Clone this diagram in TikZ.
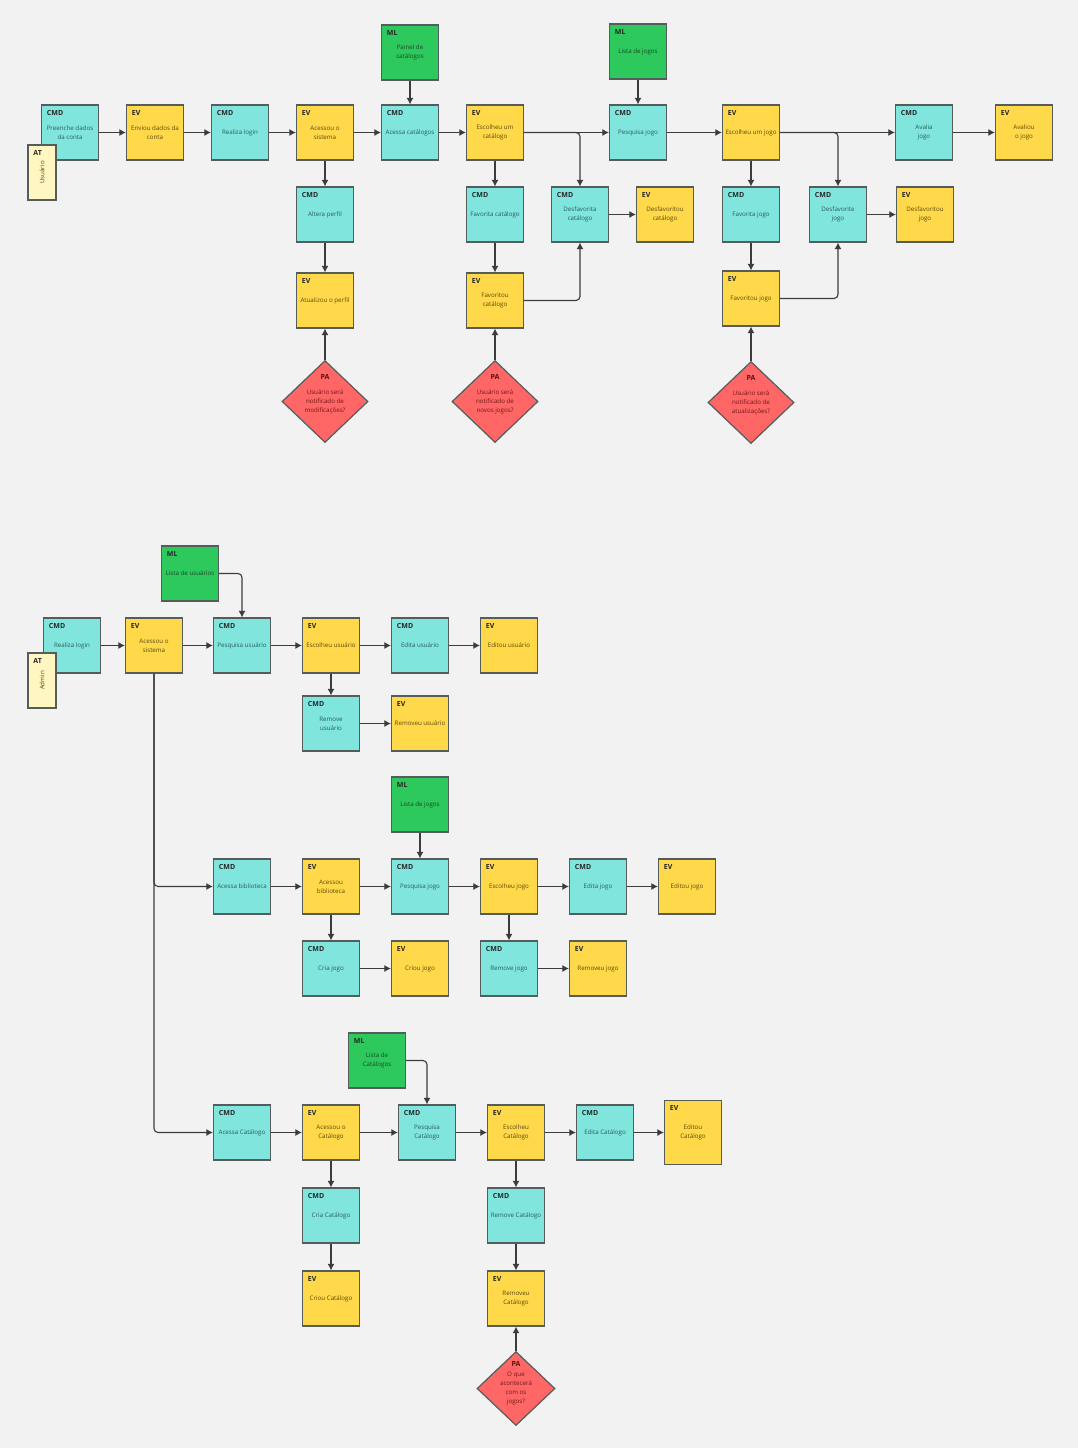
\documentclass[tikz,border=0pt]{standalone}
\usepackage{fontspec}
\setmainfont{Open Sans}
\usepackage {tikz}
\usetikzlibrary {positioning}
\usetikzlibrary{shapes.geometric}
\usetikzlibrary{arrows.meta}
\definecolor{bgfill}{RGB}{242,242,242}
\definecolor{cmdfill}{RGB}{128,229,221}
\definecolor{evfill}{RGB}{255,217,74}
\definecolor{mlfill}{RGB}{46,201,92}
\definecolor{pafill}{RGB}{255,102,102}
\definecolor{atfill}{RGB}{255,246,194}
\definecolor{stickyline}{RGB}{85,92,92}
\definecolor{flowline}{RGB}{60,60,60}
\definecolor{cmdtext}{RGB}{40,92,88}
\definecolor{evtext}{RGB}{92,72,12}
\definecolor{mltext}{RGB}{22,72,38}
\definecolor{patext}{RGB}{112,22,22}
\tikzset{
    sticky/.style = {rectangle, draw=stickyline, line width=1.2pt, minimum width=57pt,
        minimum height=55pt, inner sep=1pt, align=center, font=\fontsize{6.2}{9}\selectfont},
    hdr/.style = {anchor=north west, inner sep=0pt, xshift=5.5pt, yshift=-5.5pt,
        font=\fontsize{7}{8}\selectfont\bfseries, text=black!85},
    cmd/.style = {sticky, fill=cmdfill, text=cmdtext, label={[hdr]north west:CMD}},
    ev/.style = {sticky, fill=evfill, text=evtext, label={[hdr]north west:EV}},
    ml/.style = {sticky, fill=mlfill, text=mltext, label={[hdr]north west:ML}},
    actor/.style = {sticky, fill=atfill, text=evtext, minimum width=28pt, label={[hdr]north west:AT}},
    pahdr/.style = {anchor=center, inner sep=0pt, yshift=25pt,
        font=\fontsize{7}{8}\selectfont\bfseries, text=patext!80!black},
    pa/.style = {diamond, draw=stickyline, line width=1.2pt, fill=pafill, text=patext,
        minimum width=86pt, minimum height=82pt, inner sep=-4pt, align=center,
        font=\fontsize{6.2}{9}\selectfont, label={[pahdr]center:PA}}}

\begin{document}
\begin{tikzpicture}[x=1pt, y=-1pt, -{Latex[length=6.5pt,width=7pt]}, line width=1.1pt,
    node distance = 82pt and 85pt, on grid,
    flow/.style = {draw=flowline, rounded corners=4pt}
    ]
    \fill[bgfill, -] (0,0) rectangle (1078,1448);
    \useasboundingbox (0,0) rectangle (1078,1448);

    % usuario
    \node[cmd] (preenche) at (70,132.5) {Preenche dados\\da conta};
    \node[actor] (usuario) [below left = 40pt and 28pt of preenche] {\rotatebox{90}{Usuário}};
    \node[ev] (enviou) [right = of preenche] {Enviou dados da\\conta};
    \node[cmd] (login) [right = of enviou] {Realiza login};
    \node[ev] (acessou) [right = of login] {Acessou o\\sistema};
    \node[cmd] (acessacat) [right = of acessou] {Acessa catálogos};
    \node[ml] (painel) [above = 80pt of acessacat] {Painel de\\catálogos};
    \node[ev] (escolheucat) [right = of acessacat] {Escolheu um\\catálogo};
    \node[cmd] (pesquisa) [right = 143pt of escolheucat] {Pesquisa jogo};
    \node[ml] (listajogos) [above = 81pt of pesquisa] {Lista de jogos};
    \node[ev] (escolheujogo) [right = 113pt of pesquisa] {Escolheu um jogo};
    \node[cmd] (avalia) [right = 173pt of escolheujogo] {Avalia\\jogo};
    \node[ev] (avaliou) [right = 100pt of avalia] {Avaliou\\o jogo};

    \node[cmd] (altera) [below = of acessou] {Altera perfil};
    \node[ev] (atualizou) [below = 86pt of altera] {Atualizou o perfil};
    \node[pa] (pamod) [below = 101pt of atualizou] {Usuário será\\notificado de\\modificações?};
    \node[cmd] (favcat) [below = of escolheucat] {Favorita catálogo};
    \node[cmd] (desfavcat) [right = of favcat] {Desfavorita\\catálogo};
    \node[ev] (desfavoritoucat) [right = of desfavcat] {Desfavoritou\\catálogo};
    \node[ev] (favoritoucat) [below = 86pt of favcat] {Favoritou\\catálogo};
    \node[pa] (panovos) [below = 101pt of favoritoucat] {Usuário será\\notificado de\\novos jogos?};
    \node[cmd] (favjogo) [below = of escolheujogo] {Favorita jogo};
    \node[cmd] (desfavjogo) [right = 87pt of favjogo] {Desfavorite\\jogo};
    \node[ev] (desfavoritoujogo) [right = 87pt of desfavjogo] {Desfavoritou\\jogo};
    \node[ev] (favoritoujogo) [below = 84pt of favjogo] {Favoritou jogo};
    \node[pa] (paatual) [below = 104pt of favoritoujogo] {Usuário será\\notificado de\\atualizações?};

    \draw[flow] (preenche) -- (enviou);
    \draw[flow] (enviou) -- (login);
    \draw[flow] (login) -- (acessou);
    \draw[flow] (acessou) -- (acessacat);
    \draw[flow] (painel) -- (acessacat);
    \draw[flow] (acessacat) -- (escolheucat);
    \draw[flow] (escolheucat) -- (pesquisa);
    \draw[flow] (escolheucat) -| (desfavcat);
    \draw[flow] (listajogos) -- (pesquisa);
    \draw[flow] (pesquisa) -- (escolheujogo);
    \draw[flow] (escolheujogo) -- (avalia);
    \draw[flow] (escolheujogo) -| (desfavjogo);
    \draw[flow] (avalia) -- (avaliou);
    \draw[flow] (acessou) -- (altera);
    \draw[flow] (altera) -- (atualizou);
    \draw[flow] (pamod) -- (atualizou);
    \draw[flow] (escolheucat) -- (favcat);
    \draw[flow] (favcat) -- (favoritoucat);
    \draw[flow] (panovos) -- (favoritoucat);
    \draw[flow] (favoritoucat) -| (desfavcat);
    \draw[flow] (desfavcat) -- (desfavoritoucat);
    \draw[flow] (escolheujogo) -- (favjogo);
    \draw[flow] (favjogo) -- (favoritoujogo);
    \draw[flow] (paatual) -- (favoritoujogo);
    \draw[flow] (favoritoujogo) -| (desfavjogo);
    \draw[flow] (desfavjogo) -- (desfavoritoujogo);

    % admin
    \node[cmd] (loginadm) at (72,645.5) {Realiza login};
    \node[actor] (admin) [below left = 35pt and 30pt of loginadm] {\rotatebox{90}{Admin}};
    \node[ev] (acessouadm) [right = 82pt of loginadm] {Acessou o\\sistema};
    \node[cmd] (pesqusr) [right = 88pt of acessouadm] {Pesquisa usuário};
    \node[ml] (listausr) [above left = 72pt and 52pt of pesqusr] {Lista de usuários};
    \node[ev] (escolheuusr) [right = 89pt of pesqusr] {Escolheu usuário};
    \node[cmd] (editausr) [right = 89pt of escolheuusr] {Edita usuário};
    \node[ev] (editouusr) [right = 89pt of editausr] {Editou usuário};
    \node[cmd] (removeusr) [below = 78pt of escolheuusr] {Remove\\usuário};
    \node[ev] (removeuusr) [right = 89pt of removeusr] {Removeu usuário};

    \node[cmd] (acessabib) [below = 241pt of pesqusr] {Acessa biblioteca};
    \node[ev] (acessoubib) [right = 89pt of acessabib] {Acessou\\biblioteca};
    \node[cmd] (pesqjogo) [right = 89pt of acessoubib] {Pesquisa jogo};
    \node[ml] (listajogosadm) [above = of pesqjogo] {Lista de jogos};
    \node[ev] (escolheujogoadm) [right = 89pt of pesqjogo] {Escolheu jogo};
    \node[cmd] (editajogo) [right = 89pt of escolheujogoadm] {Edita jogo};
    \node[ev] (editoujogo) [right = 89pt of editajogo] {Editou jogo};
    \node[cmd] (criajogo) [below = of acessoubib] {Cria jogo};
    \node[ev] (crioujogo) [right = 89pt of criajogo] {Criou jogo};
    \node[cmd] (removejogo) [below = of escolheujogoadm] {Remove jogo};
    \node[ev] (removeujogo) [right = 89pt of removejogo] {Removeu jogo};

    \node[cmd] (acessacatadm) [below = 246pt of acessabib] {Acessa Catálogo};
    \node[ev] (acessoucat) [right = 89pt of acessacatadm] {Acessou o\\Catálogo};
    \node[cmd] (pesqcat) [right = 96pt of acessoucat] {Pesquisa\\Catálogo};
    \node[ml] (listacat) [above left = 72pt and 50pt of pesqcat] {Lista de\\Catálogos};
    \node[ev] (escolheucatadm) [right = 89pt of pesqcat] {Escolheu\\Catálogo};
    \node[cmd] (editacat) [right = 89pt of escolheucatadm] {Edita Catálogo};
    \node[ev, minimum height=64pt] (editoucat) [right = 88pt of editacat] {Editou\\Catálogo};
    \node[cmd] (criacat) [below = 83pt of acessoucat] {Cria Catálogo};
    \node[ev] (crioucat) [below = 83pt of criacat] {Criou Catálogo};
    \node[cmd] (removecat) [below = 83pt of escolheucatadm] {Remove Catálogo};
    \node[ev] (removeucat) [below = 83pt of removecat] {Removeu\\Catálogo};
    \node[pa, minimum width=78pt, minimum height=74pt] (pajogos) [below = 90pt of removeucat]
        {O que\\acontecerá\\com os\\jogos?};

    \draw[flow] (loginadm) -- (acessouadm);
    \draw[flow] (acessouadm) -- (pesqusr);
    \draw[flow] (listausr) -| (pesqusr);
    \draw[flow] (pesqusr) -- (escolheuusr);
    \draw[flow] (escolheuusr) -- (editausr);
    \draw[flow] (editausr) -- (editouusr);
    \draw[flow] (escolheuusr) -- (removeusr);
    \draw[flow] (removeusr) -- (removeuusr);
    \draw[flow] (acessouadm) |- (acessabib);
    \draw[flow] (acessouadm) |- (acessacatadm);

    \draw[flow] (acessabib) -- (acessoubib);
    \draw[flow] (acessoubib) -- (pesqjogo);
    \draw[flow] (listajogosadm) -- (pesqjogo);
    \draw[flow] (pesqjogo) -- (escolheujogoadm);
    \draw[flow] (escolheujogoadm) -- (editajogo);
    \draw[flow] (editajogo) -- (editoujogo);
    \draw[flow] (acessoubib) -- (criajogo);
    \draw[flow] (criajogo) -- (crioujogo);
    \draw[flow] (escolheujogoadm) -- (removejogo);
    \draw[flow] (removejogo) -- (removeujogo);

    \draw[flow] (acessacatadm) -- (acessoucat);
    \draw[flow] (acessoucat) -- (pesqcat);
    \draw[flow] (listacat) -| (pesqcat);
    \draw[flow] (pesqcat) -- (escolheucatadm);
    \draw[flow] (escolheucatadm) -- (editacat);
    \draw[flow] (editacat) -- (editoucat);
    \draw[flow] (acessoucat) -- (criacat);
    \draw[flow] (criacat) -- (crioucat);
    \draw[flow] (escolheucatadm) -- (removecat);
    \draw[flow] (removecat) -- (removeucat);
    \draw[flow] (pajogos) -- (removeucat);
\end{tikzpicture}
\end{document}
